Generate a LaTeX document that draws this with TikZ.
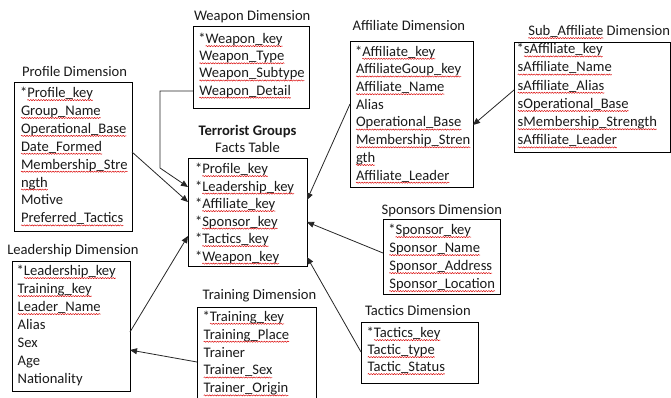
\documentclass[tikz,border=0pt]{standalone}
\usepackage{fontspec}
\setmainfont{Carlito}
\usetikzlibrary{calc,arrows.meta,decorations.pathmorphing}
\definecolor{txt}{HTML}{1A1A1A}
\tikzset{
 dimbox/.style={draw=black, line width=0.8pt, rectangle, inner sep=0pt, outer sep=0pt, anchor=north west},
 rowtxt/.style={inner sep=0pt, outer sep=0pt, anchor=base west, font=\fontsize{14.6}{17.8}\selectfont, text=txt},
 squig/.style={draw=red!85!black, line width=0.45pt, decorate, decoration={snake, amplitude=0.6pt, segment length=2.6pt}},
 conn/.style={draw=black!85, line width=0.8pt, -{Triangle[length=7pt,width=6pt]}},
}
\newcommand\rowsat[5]{%
 \foreach \rpre/\rtxt/\rsq [count=\i] in {#5} {
   \node[rowtxt] (#1\i a) at (#2, #3+#4*\i-#4) {\rpre};
   \node[rowtxt] (#1\i) at (#1\i a.base east) {\rtxt};
   \ifnum\rsq=1 \draw[squig] ([yshift=-2.6pt]#1\i.base west) -- ([yshift=-2.6pt]#1\i.base east);\fi
 }}
\begin{document}
\begin{tikzpicture}[x=1pt,y=-1pt]
\useasboundingbox (0,0) rectangle (671,398);
% boxes
\node[dimbox, minimum width=118pt, minimum height=149pt] (prof) at (14,82) {};
\node[dimbox, minimum width=116pt, minimum height=82pt] (weap) at (193,26) {};
\node[dimbox, minimum width=123pt, minimum height=146pt] (aff) at (350,41) {};
\node[dimbox, minimum width=156pt, minimum height=110pt] (sub) at (514,42) {};
\node[dimbox, minimum width=119pt, minimum height=108pt] (facts) at (188,158) {};
\node[dimbox, minimum width=118pt, minimum height=130pt] (lead) at (12,261) {};
\node[dimbox, minimum width=117pt, minimum height=75pt] (spons) at (383,219) {};
\node[dimbox, minimum width=117pt, minimum height=61pt] (tact) at (361,322) {};
\node[dimbox, draw=none, minimum width=119pt, minimum height=96pt] (train) at (197,307) {};
\draw[line width=0.8pt] (train.south west) -- (train.north west) -- (train.north east) -- (train.south east);
% titles
\node[rowtxt] (proft) at (22,76.5) {Profile Dimension};
\node[rowtxt] (weapt) at (194,20.5) {Weapon Dimension};
\node[rowtxt] (afft) at (352.7,31) {Affiliate Dimension};
\node[rowtxt] (subt) at (528.3,35.5) {Sub\_Affiliate};
\draw[squig] ([yshift=-2.6pt]subt.base west) -- ([yshift=-2.6pt]subt.base east);
\node[rowtxt] (subt2) at (subt.base east) {\ Dimension};
\node[rowtxt, anchor=base, font={\fontsize{14.6}{17.8}\selectfont\bfseries}] (factst1) at (247.5,136) {Terrorist Groups};
\node[rowtxt, anchor=base] (factst2) at (247.5,152.5) {Facts Table};
\node[rowtxt] (leadt) at (7.3,254.5) {Leadership Dimension};
\node[rowtxt] (traint) at (202.7,299.5) {Training Dimension};
\node[rowtxt] (sponst) at (381.7,214.5) {Sponsors Dimension};
\node[rowtxt] (tactt) at (365,315.5) {Tactics Dimension};
% rows
\rowsat{pr}{20}{97.5}{17.9}{*/Profile\_key/1, /Group\_Name/1, /Operational\_Base/1, /Date\_Formed/1, /Membership\_Stre/1, /ngth/1, /Motive/0, /Preferred\_Tactics/1}
\rowsat{we}{198.3}{43.5}{17.2}{*/Weapon\_key/1, /Weapon\_Type/1, /Weapon\_Subtype/1, /Weapon\_Detail/1}
\rowsat{af}{355}{56.2}{17.7}{*/Affiliate\_key/1, /AffiliateGoup\_key/1, /Affiliate\_Name/1, /Alias/0, /Operational\_Base/1, /Membership\_Stren/1, /gth/1, /Affiliate\_Leader/1}
\rowsat{sb}{516.7}{53.8}{18.2}{*/sAffiliate\_key/1, /sAffiliate\_Name/1, /sAffiliate\_Alias/1, /sOperational\_Base/1, /sMembership\_Strength/1, /sAffiliate\_Leader/1}
\rowsat{fa}{195}{173.5}{17.5}{*/Profile\_key/1, */Leadership\_key/1, */Affiliate\_key/1, */Sponsor\_key/1, */Tactics\_key/1, */Weapon\_key/1}
\rowsat{le}{16.7}{275.5}{18}{*/Leadership\_key/1, /Training\_key/1, /Leader\_Name/1, /Alias/0, /Sex/0, /Age/0, /Nationality/0}
\rowsat{tr}{202.7}{321.2}{17.9}{*/Training\_key/1, /Training\_Place/1, /Trainer/0, /Trainer\_Sex/1, /Trainer\_Origin/1}
\rowsat{sp}{388.3}{234.5}{18}{*/Sponsor\_key/1, /Sponsor\_Name/1, /Sponsor\_Address/1, /Sponsor\_Location/1}
\rowsat{ta}{366.7}{337.5}{17}{*/Tactics\_key/1, /Tactic\_type/1, /Tactic\_Status/1}
% connectors
\coordinate (wb1) at (160,91);
\coordinate (wb2) at (160,168);
\draw[conn] ($(weap.north west)+(0,65)$) -- (wb1) -- (wb2) -- ($(facts.north west)+(0,29)$);
\draw[conn] ($(prof.north east)+(0,70)$) -- ($(facts.north west)+(0,44)$);
\draw[conn] ($(lead.north east)+(0,71)$) -- ($(facts.north west)+(0,78)$);
\draw[conn] ($(train.north west)+(0,55)$) -- ($(lead.north east)+(0,89)$);
\draw[conn] ($(aff.north west)+(0,63)$) -- ($(facts.north east)+(0,42)$);
\draw[conn] ($(sub.north west)+(0,48)$) -- ($(aff.north east)+(0,84)$);
\draw[conn] ($(spons.north west)+(0,34)$) -- ($(facts.north east)+(0,64)$);
\draw[conn] ($(tact.north west)+(0,30)$) -- ($(facts.north east)+(0,99)$);
\end{tikzpicture}
\end{document}
